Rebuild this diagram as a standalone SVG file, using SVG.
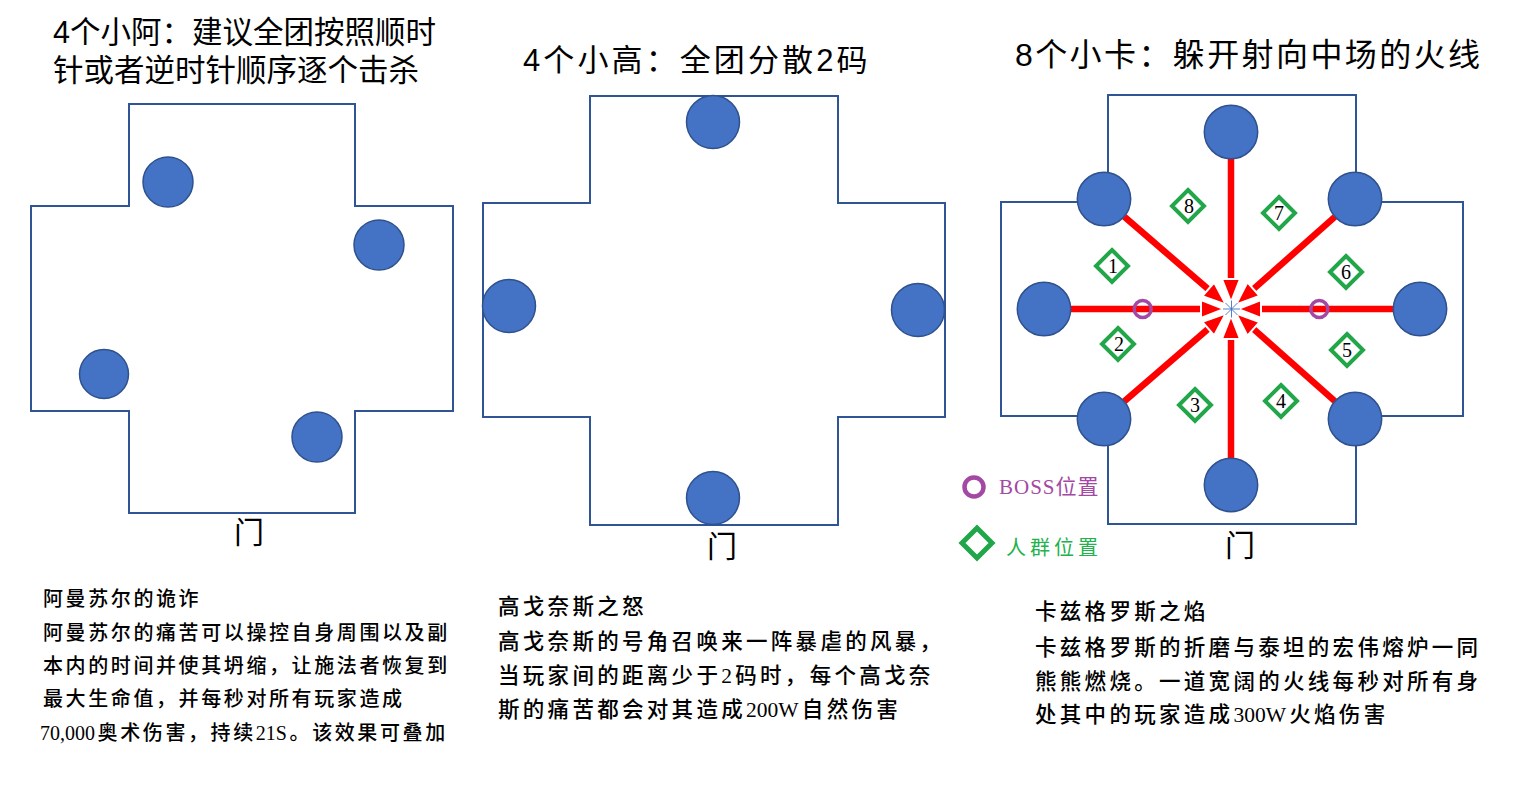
<svg xmlns="http://www.w3.org/2000/svg" width="1519" height="808" viewBox="0 0 1519 808">
  <style>
    .title { font-family: "Liberation Sans", "Noto Sans CJK SC", sans-serif; fill: #000; }
    .body { font-family: "Liberation Serif", "Noto Sans CJK SC", serif; fill: #000; font-size: 20px; letter-spacing: 2.6px; font-weight: 500; }
    .body2 { font-family: "Liberation Serif", "Noto Sans CJK SC", serif; fill: #000; font-size: 21.5px; letter-spacing: 3.3px; font-weight: 500; }
    .nosp { letter-spacing: 0; }
    .door { font-family: "Liberation Sans", "Noto Sans CJK SC", sans-serif; font-size: 30px; fill: #000; text-anchor: middle; }
    .room { fill: #fff; stroke: #2F5597; stroke-width: 2; }
    .add { fill: #4472C4; stroke: #2F528F; stroke-width: 1.5; }
    .fire { stroke: #FF0000; stroke-width: 6.5; fill: none; marker-end: url(#ah); }
    .boss { fill: none; stroke: #A349A4; stroke-width: 3.5; }
    .crowd { fill: #fff; stroke: #22A64A; stroke-width: 4; }
    .num { font-family: "Liberation Serif", serif; font-size: 20px; fill: #000; text-anchor: middle; }
    .star { stroke: #4472C4; stroke-width: 0.9; }
  </style>
  <defs>
    <marker id="ah" viewBox="0 0 23 18" refX="0" refY="9" markerWidth="23" markerHeight="18" markerUnits="userSpaceOnUse" orient="auto" overflow="visible">
      <path d="M0,0 L23,9 L0,18 Z" fill="#FF0000" stroke="#fff" stroke-width="2" stroke-linejoin="miter"/>
    </marker>
  </defs>
  <rect width="1519" height="808" fill="#fff"/>

  <!-- Titles -->
  <g id="title1">
    <text class="title" x="53" y="43" font-size="30.5">4个小阿：建议全团按照顺时</text>
    <text class="title" x="53" y="81" font-size="30.5">针或者逆时针顺序逐个击杀</text>
  </g>
  <g id="title2">
    <text class="title" x="523" y="71" font-size="31" letter-spacing="3.1">4个小高：全团分散2码</text>
  </g>
  <g id="title3">
    <text class="title" x="1015" y="66" font-size="32" letter-spacing="2.4">8个小卡：躲开射向中场的火线</text>
  </g>

  <!-- Panel 1 room -->
  <g id="room1">
    <path class="room" d="M129,104 H355 V206 H453 V411 H355 V513 H129 V411 H31 V206 H129 Z"/>
    <text class="door" x="249" y="543">门</text>
  </g>
  <g id="p1-add1"><circle class="add" cx="168" cy="182" r="25"/></g>
  <g id="p1-add2"><circle class="add" cx="379" cy="245" r="25"/></g>
  <g id="p1-add3"><circle class="add" cx="104" cy="374" r="24.5"/></g>
  <g id="p1-add4"><circle class="add" cx="317" cy="437" r="25"/></g>

  <!-- Panel 2 room -->
  <g id="room2">
    <path class="room" d="M590,96 H838 V203 H945 V417 H838 V525 H590 V417 H483 V203 H590 Z"/>
    <text class="door" x="722" y="557">门</text>
  </g>
  <g id="p2-add1"><circle class="add" cx="713" cy="122" r="26.5"/></g>
  <g id="p2-add2"><circle class="add" cx="509" cy="306" r="26.5"/></g>
  <g id="p2-add3"><circle class="add" cx="918" cy="310" r="26.5"/></g>
  <g id="p2-add4"><circle class="add" cx="713" cy="498" r="26.5"/></g>

  <!-- Panel 3 room -->
  <g id="room3">
    <path class="room" d="M1108,95 H1356 V202 H1463 V416 H1356 V524 H1108 V416 H1001 V202 H1108 Z"/>
    <text class="door" x="1240" y="556">门</text>
  </g>

  <!-- Connectors (fire lines) -->
  <g id="connectors">
    <line class="fire" x1="1231" y1="159" x2="1231" y2="279"/>
    <line class="fire" x1="1231" y1="458" x2="1231" y2="339"/>
    <line class="fire" x1="1071" y1="309" x2="1201" y2="309"/>
    <line class="fire" x1="1393" y1="309" x2="1261" y2="309"/>
    <line class="fire" x1="1124.4" y1="216.7" x2="1208.3" y2="289.3"/>
    <line class="fire" x1="1334.8" y1="216.9" x2="1253.4" y2="289.1"/>
    <line class="fire" x1="1124.4" y1="401.3" x2="1208.3" y2="328.7"/>
    <line class="fire" x1="1334.8" y1="401.1" x2="1253.4" y2="328.9"/>
  </g>
  <g id="center-star">
    <line class="star" x1="1223" y1="309" x2="1240" y2="309"/>
    <line class="star" x1="1231.5" y1="300.5" x2="1231.5" y2="317.5"/>
    <line class="star" x1="1225.5" y1="303" x2="1237.5" y2="315"/>
    <line class="star" x1="1237.5" y1="303" x2="1225.5" y2="315"/>
  </g>

  <g id="p3-add-top"><circle class="add" cx="1231" cy="132" r="26.7"/></g>
  <g id="p3-add-ul"><circle class="add" cx="1104" cy="199" r="26.7"/></g>
  <g id="p3-add-ur"><circle class="add" cx="1355" cy="199" r="26.7"/></g>
  <g id="p3-add-left"><circle class="add" cx="1044" cy="309" r="26.7"/></g>
  <g id="p3-add-right"><circle class="add" cx="1420" cy="309" r="26.7"/></g>
  <g id="p3-add-ll"><circle class="add" cx="1104" cy="419" r="26.7"/></g>
  <g id="p3-add-lr"><circle class="add" cx="1355" cy="419" r="26.7"/></g>
  <g id="p3-add-bottom"><circle class="add" cx="1231" cy="485" r="26.7"/></g>

  <g id="boss-left"><circle class="boss" cx="1142.7" cy="309" r="8.5"/></g>
  <g id="boss-right"><circle class="boss" cx="1319.3" cy="309" r="8.5"/></g>

  <g id="crowd1"><path class="crowd" d="M1112,250 L1128,266 L1112,282 L1096,266 Z"/><text class="num" x="1113" y="273">1</text></g>
  <g id="crowd2"><path class="crowd" d="M1118,328 L1134,344 L1118,360 L1102,344 Z"/><text class="num" x="1119" y="351">2</text></g>
  <g id="crowd3"><path class="crowd" d="M1195,389 L1211,405 L1195,421 L1179,405 Z"/><text class="num" x="1195" y="412">3</text></g>
  <g id="crowd4"><path class="crowd" d="M1281,385 L1297,401 L1281,417 L1265,401 Z"/><text class="num" x="1281" y="408">4</text></g>
  <g id="crowd5"><path class="crowd" d="M1347,334 L1363,350 L1347,366 L1331,350 Z"/><text class="num" x="1347" y="357">5</text></g>
  <g id="crowd6"><path class="crowd" d="M1346,256 L1362,272 L1346,288 L1330,272 Z"/><text class="num" x="1346" y="279">6</text></g>
  <g id="crowd7"><path class="crowd" d="M1279,197 L1295,213 L1279,229 L1263,213 Z"/><text class="num" x="1279" y="220">7</text></g>
  <g id="crowd8"><path class="crowd" d="M1188,190 L1204,206 L1188,222 L1172,206 Z"/><text class="num" x="1189" y="213">8</text></g>

  <!-- Legend -->
  <g id="legend-boss">
    <circle cx="974" cy="487" r="9.5" fill="none" stroke="#A349A4" stroke-width="4.5"/>
    <text x="999" y="494" font-family="Liberation Serif, Noto Sans CJK SC, serif" font-size="21" fill="#A349A4" letter-spacing="1">BOSS位置</text>
  </g>
  <g id="legend-crowd">
    <path d="M977,528 L992,543 L977,558 L962,543 Z" fill="none" stroke="#22A64A" stroke-width="5"/>
    <text x="1006" y="555" font-family="Liberation Serif, Noto Sans CJK SC, serif" font-size="20" fill="#22B14C" letter-spacing="4">人群位置</text>
  </g>

  <!-- Descriptions -->
  <g id="desc1">
    <text class="body" x="43" y="606">阿曼苏尔的诡诈</text>
    <text class="body" x="43" y="640">阿曼苏尔的痛苦可以操控自身周围以及副</text>
    <text class="body" x="43" y="673">本内的时间并使其坍缩，让施法者恢复到</text>
    <text class="body" x="43" y="706">最大生命值，并每秒对所有玩家造成</text>
    <text class="body" x="40" y="740"><tspan class="nosp">70,00</tspan>0奥术伤害，持续<tspan class="nosp">21</tspan>S。该效果可叠加</text>
  </g>
  <g id="desc2">
    <text class="body2" x="498" y="614">高戈奈斯之怒</text>
    <text class="body2" x="498" y="649">高戈奈斯的号角召唤来一阵暴虐的风暴，</text>
    <text class="body2" x="498" y="683">当玩家间的距离少于2码时，每个高戈奈</text>
    <text class="body2" x="498" y="717">斯的痛苦都会对其造成<tspan class="nosp">200</tspan>W自然伤害</text>
  </g>
  <g id="desc3">
    <text class="body2" x="1035" y="619">卡兹格罗斯之焰</text>
    <text class="body2" x="1035" y="655">卡兹格罗斯的折磨与泰坦的宏伟熔炉一同</text>
    <text class="body2" x="1035" y="689">熊熊燃烧。一道宽阔的火线每秒对所有身</text>
    <text class="body2" x="1035" y="722">处其中的玩家造成<tspan class="nosp">300</tspan>W火焰伤害</text>
  </g>
</svg>
